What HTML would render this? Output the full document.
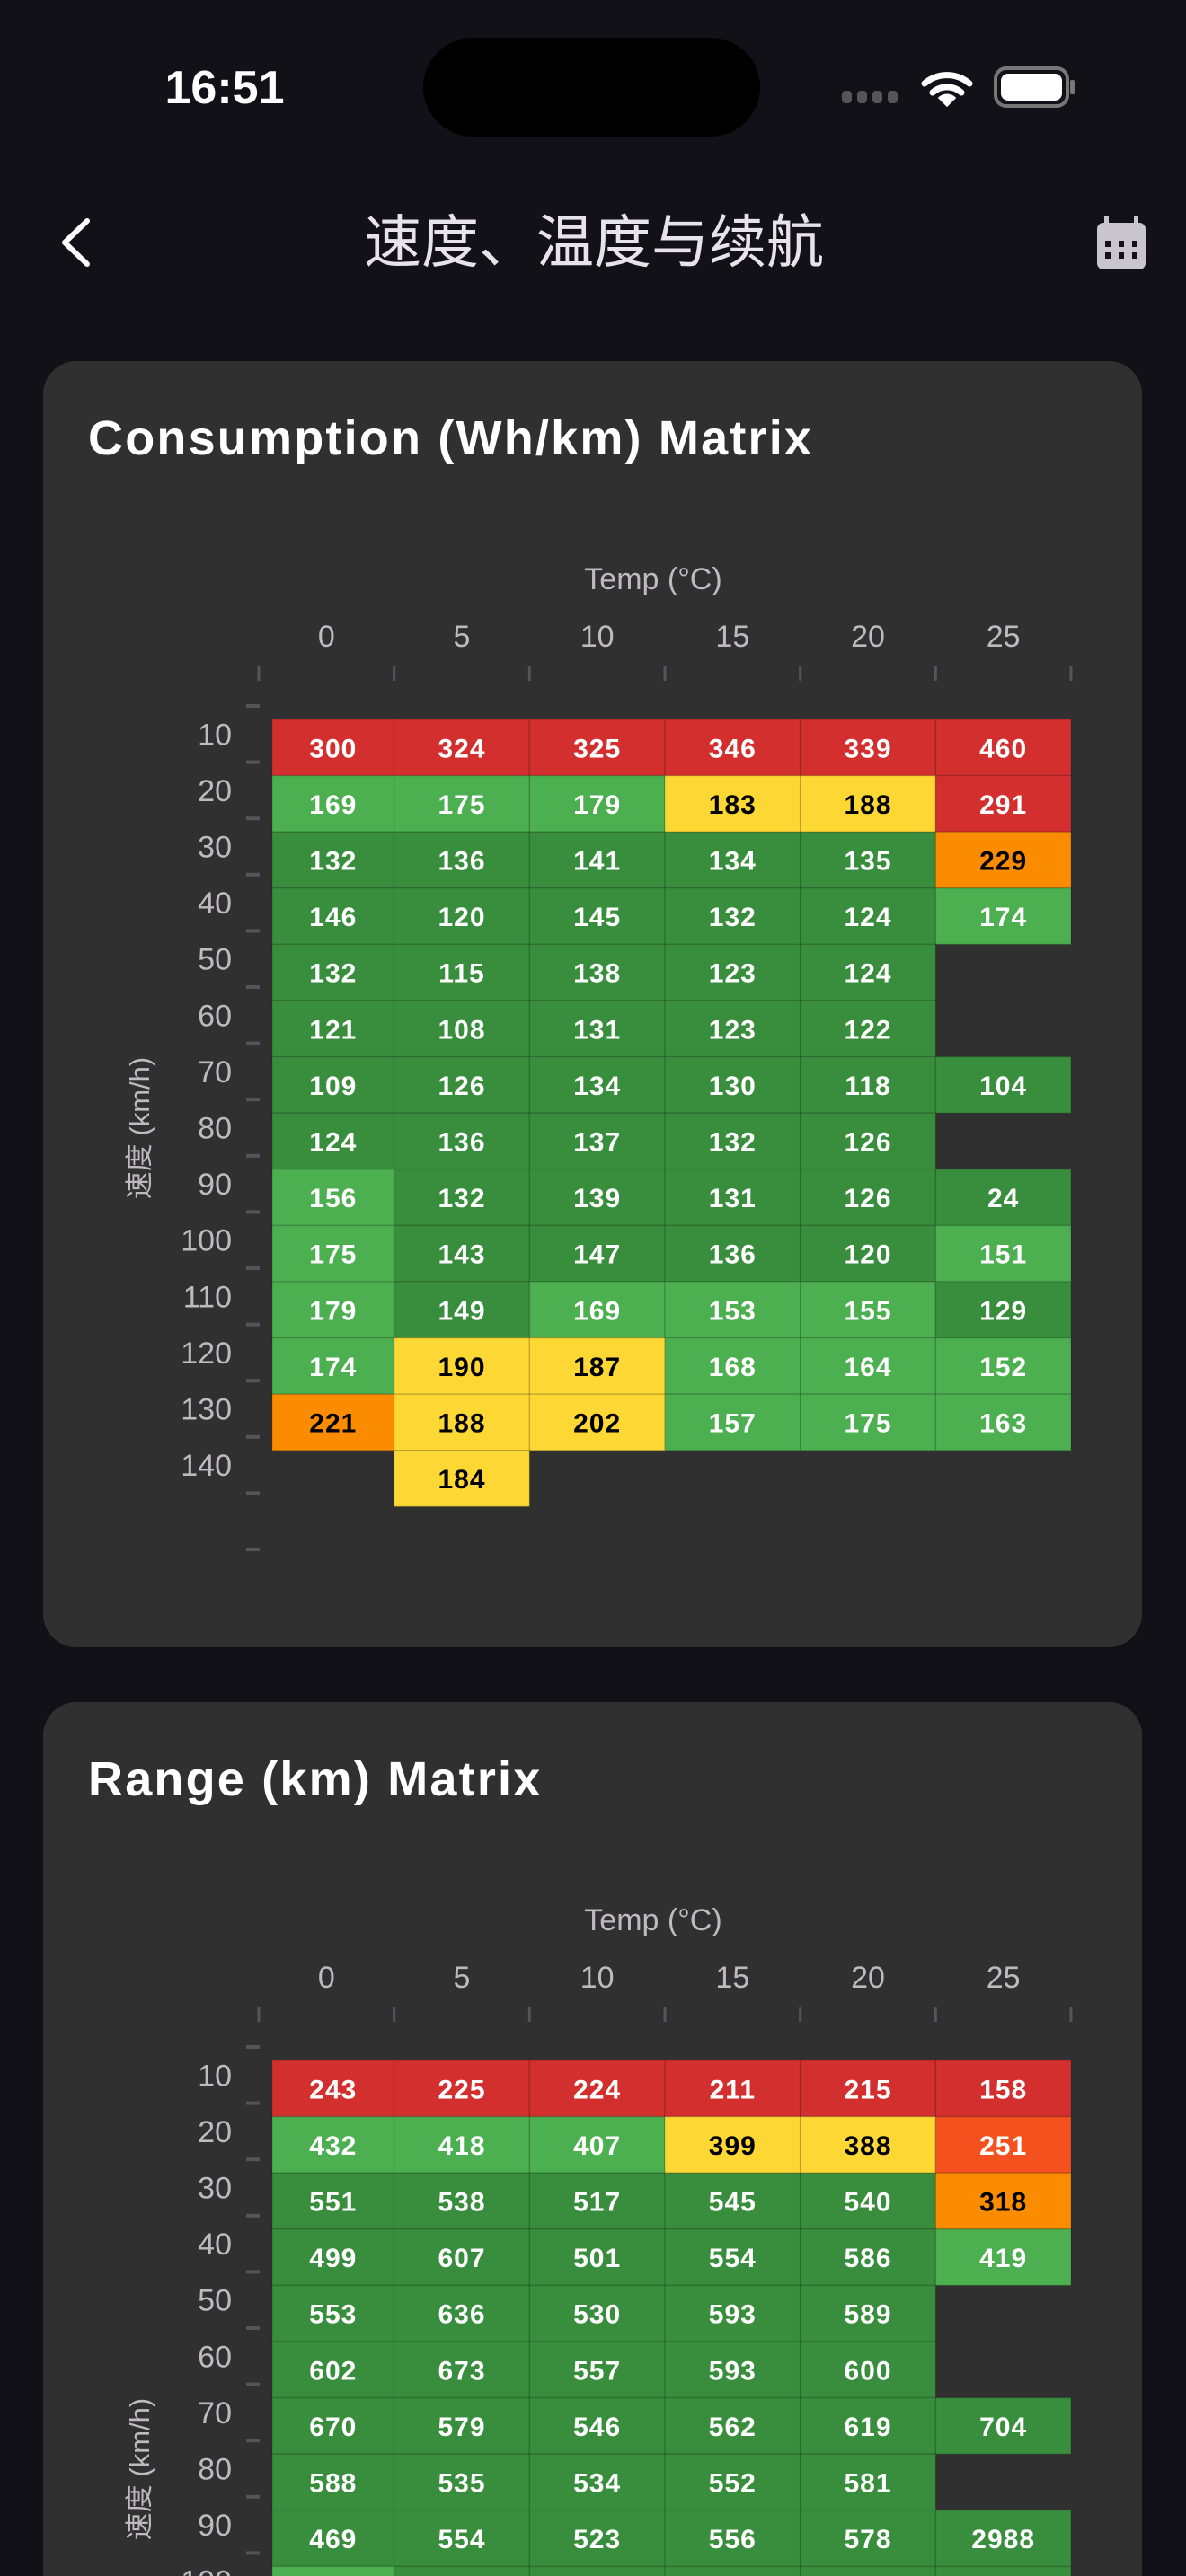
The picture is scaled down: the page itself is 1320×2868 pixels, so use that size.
<!DOCTYPE html>
<html><head><meta charset="utf-8">
<style>
html,body{margin:0;padding:0;background:#131118;width:1320px;height:2868px;overflow:hidden;}
svg{display:block;}
text{font-family:"Liberation Sans","Noto Sans CJK SC",sans-serif;}
</style></head>
<body>
<svg id="root" width="1320" height="2868" viewBox="0 0 1320 2868" xmlns="http://www.w3.org/2000/svg">
  <defs><clipPath id="frame"><rect x="0" y="0" width="1320" height="2868"/></clipPath></defs>
  <rect x="0" y="0" width="1320" height="2868" fill="#131118"/>
  <g>
    <text x="250" y="115" text-anchor="middle" font-size="52" font-weight="bold" fill="#fff">16:51</text>
    <rect x="471" y="42" width="375" height="110" rx="55" fill="#000"/>
    <g fill="#555">
      <rect x="937" y="101" width="11" height="14" rx="4"/><rect x="954" y="101" width="11" height="14" rx="4"/>
      <rect x="971" y="101" width="11" height="14" rx="4"/><rect x="988" y="101" width="11" height="14" rx="4"/>
    </g>
    <g fill="none" stroke="#fff" stroke-width="7" stroke-linecap="round">
      <path d="M1029 93 A38 38 0 0 1 1079 93"/>
      <path d="M1038 103 A24 24 0 0 1 1070 103"/>
      <path d="M1054 117 L1046 109 A12 12 0 0 1 1062 109 Z" fill="#fff" stroke-width="3"/>
    </g>
    <g>
      <rect x="1108" y="76" width="80" height="42" rx="12" fill="none" stroke="#777" stroke-width="4"/>
      <rect x="1114" y="82" width="68" height="30" rx="8" fill="#fff"/>
      <rect x="1191" y="89" width="5" height="16" rx="2" fill="#777"/>
    </g>
  </g>
  <g>
    <path d="M97 246 L72 270 L97 294" fill="none" stroke="#fff" stroke-width="6" stroke-linecap="round" stroke-linejoin="round"/>
    <text x="661" y="292" text-anchor="middle" font-size="64" fill="#E6E3EA">速度、温度与续航</text>
    <g>
      <rect x="1221" y="248" width="54" height="52" rx="7" fill="#C9C5CF"/>
      <rect x="1229" y="240" width="5" height="14" fill="#C9C5CF"/><rect x="1262" y="240" width="5" height="14" fill="#C9C5CF"/>
      <g fill="#131118">
        <rect x="1230" y="268" width="6" height="7"/><rect x="1245" y="268" width="6" height="7"/><rect x="1260" y="268" width="6" height="7"/>
        <rect x="1230" y="281" width="6" height="7"/><rect x="1245" y="281" width="6" height="7"/><rect x="1260" y="281" width="6" height="7"/>
      </g>
    </g>
  </g>
  <g id="cards" clip-path="url(#frame)"></g>
</svg>
<script>
// ---- chart data ----
const temps = [0, 5, 10, 15, 20, 25];
const speeds = [10, 20, 30, 40, 50, 60, 70, 80, 90, 100, 110, 120, 130, 140];
const consumptionValues = [
  [300, 324, 325, 346, 339, 460],
  [169, 175, 179, 183, 188, 291],
  [132, 136, 141, 134, 135, 229],
  [146, 120, 145, 132, 124, 174],
  [132, 115, 138, 123, 124, null],
  [121, 108, 131, 123, 122, null],
  [109, 126, 134, 130, 118, 104],
  [124, 136, 137, 132, 126, null],
  [156, 132, 139, 131, 126, 24],
  [175, 143, 147, 136, 120, 151],
  [179, 149, 169, 153, 155, 129],
  [174, 190, 187, 168, 164, 152],
  [221, 188, 202, 157, 175, 163],
  [null, 184, null, null, null, null]
];
const rangeValues = [
  [243, 225, 224, 211, 215, 158],
  [432, 418, 407, 399, 388, 251],
  [551, 538, 517, 545, 540, 318],
  [499, 607, 501, 554, 586, 419],
  [553, 636, 530, 593, 589, null],
  [602, 673, 557, 593, 600, null],
  [670, 579, 546, 562, 619, 704],
  [588, 535, 534, 552, 581, null],
  [469, 554, 523, 556, 578, 2988],
  [420, 550, 540, 560, 600, 470]
];
const cardTitles = ["Consumption (Wh/km) Matrix", "Range (km) Matrix"];

const C = {red:"#D32F2F", deep:"#F4511E", orange:"#FB8C00", yellow:"#FDD835", light:"#4CAF50", dark:"#388E3C"};
function consColor(v){ if(v<150) return C.dark; if(v<180) return C.light; if(v<=205) return C.yellow; if(v<250) return C.orange; return C.red; }
function rangeColor(v){ if(v>=450) return C.dark; if(v>=400) return C.light; if(v>=350) return C.yellow; if(v>=300) return C.orange; if(v>=250) return C.deep; return C.red; }
function textColor(c){ return (c===C.yellow||c===C.orange) ? "#000" : "#fff"; }

const NS = "http://www.w3.org/2000/svg";
function mk(tag, attrs, parent){ const e=document.createElementNS(NS,tag); for(const k in attrs) e.setAttribute(k,attrs[k]); parent.appendChild(e); return e; }

// axis functions
const X0 = 288, XW = (1192-288)/temps.length;
function xBand(i){ return X0 + i*XW; }
const YB0 = 786, YH = 62.6;
function yBand(i){ return YB0 + i*YH; }

const cardsG = document.getElementById('cards');
function drawCard(idx, values, colorFn){
  const dy = idx*1493;
  const g = mk('g', {transform:`translate(0,${dy})`}, cardsG);
  
  
  const card = mk('rect', {x:48, y:402, width:1223, height:1432, rx:37, fill:'#303030'}, g);
  
  
  const t = mk('text', {x:98, y:506, 'font-size':54, 'font-weight':'bold', fill:'#fff', 'letter-spacing':2.2}, g);
  t.textContent = cardTitles[idx];
  
  
  const xt = mk('text', {x:727, y:656, 'font-size':34, fill:'#BDBAC2', 'text-anchor':'middle'}, g);
  xt.textContent = 'Temp (°C)';
  
  
  temps.forEach((tv,i)=>{
    const l = mk('text', {x:xBand(i)+XW/2, y:720, 'font-size':34, fill:'#BDBAC2', 'text-anchor':'middle'}, g);
    l.textContent = tv;
    
    
  });
  for(let i=0;i<=temps.length;i++){
    const tk = mk('line', {x1:xBand(i), x2:xBand(i), y1:742, y2:758, stroke:'#55545A', 'stroke-width':3}, g);
    
    
  }
  for(let k=0;k<=speeds.length+1;k++){
    const tk = mk('line', {x1:274, x2:289, y1:yBand(k), y2:yBand(k), stroke:'#55545A', 'stroke-width':4}, g);
    
    
  }
  speeds.forEach((s,i)=>{
    const l = mk('text', {x:258, y:yBand(i)+YH/2+12, 'font-size':34, fill:'#BDBAC2', 'text-anchor':'end'}, g);
    l.textContent = s;
    
    
  });
  const yt = mk('text', {x:0, y:0, 'font-size':31, fill:'#BDBAC2', 'text-anchor':'middle', transform:'translate(166,1256) rotate(-90)'}, g);
  yt.textContent = '速度 (km/h)';
  
  
  values.forEach((row,r)=>{
    row.forEach((v,c)=>{
      if(v===null) return;
      const col = colorFn(v);
      let x1 = Math.max(xBand(c), 303), x2 = xBand(c+1);
      const y1 = yBand(r)+15;
      const cell = mk('rect', {x:x1, y:y1, width:x2-x1, height:YH, fill:col, stroke:'rgba(0,0,0,0.12)', 'stroke-width':1.5}, g);
      
      
      const tx = mk('text', {x:(x1+x2)/2, y:y1+YH/2+11, 'font-size':30, 'font-weight':'bold', fill:textColor(col), 'text-anchor':'middle', 'letter-spacing':1}, g);
      tx.textContent = v;
      
      
    });
  });
}
drawCard(0, consumptionValues, consColor);
drawCard(1, rangeValues, rangeColor);
</script>
</body></html>
